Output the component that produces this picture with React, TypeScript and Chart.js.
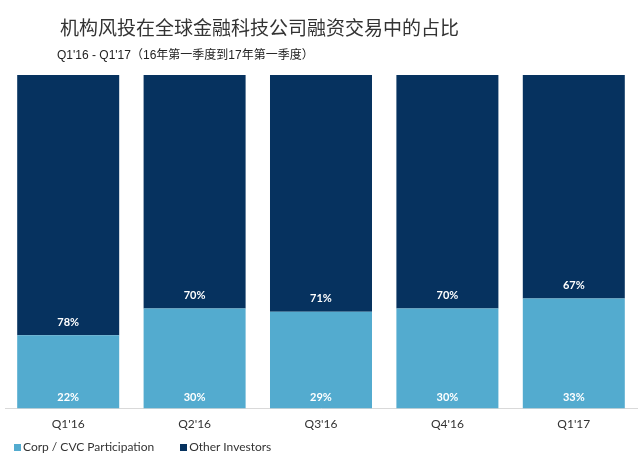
import React, { useEffect, useRef } from "react";
import { Chart, registerables } from "chart.js";

Chart.register(...registerables);

const TITLE = "机构风投在全球金融科技公司融资交易中的占比";
const SUBTITLE = "Q1'16 - Q1'17（16年第一季度到17年第一季度）";
const categories = ["Q1'16", "Q2'16", "Q3'16", "Q4'16", "Q1'17"];
const corpCvc = [22, 30, 29, 30, 33];
const otherInvestors = [78, 70, 71, 70, 67];
const seriesNames = ["Corp / CVC Participation", "Other Investors"];
const seriesColors = ["#53ABCF", "#06325F"];

const LATIN = "Lato, 'Open Sans', 'DejaVu Sans', sans-serif";

const labelPlugin = {
  id: "barLabels",
  afterDatasetsDraw(chart: any) {
    const ctx = chart.ctx;
    ctx.save();
    ctx.fillStyle = "#ffffff";
    ctx.font = "bold 11px " + LATIN;
    ctx.textAlign = "center";
    ctx.textBaseline = "middle";
    chart.data.datasets.forEach((ds: any, di: number) => {
      const meta = chart.getDatasetMeta(di);
      meta.data.forEach((bar: any, i: number) => {
        const v = ds.data[i];
        const y = di === 0 ? bar.base - 11 : bar.base - 13;
        ctx.fillText(v + "%", bar.x, y);
      });
    });
    ctx.restore();
  },
};

export default function App() {
  const ref = useRef<HTMLCanvasElement | null>(null);
  useEffect(() => {
    if (!ref.current) return;
    const chart = new Chart(ref.current, {
      type: "bar",
      data: {
        labels: categories,
        datasets: [
          { label: seriesNames[0], data: corpCvc, backgroundColor: seriesColors[0] },
          { label: seriesNames[1], data: otherInvestors, backgroundColor: seriesColors[1] },
        ],
      },
      options: {
        animation: false,
        responsive: false,
        maintainAspectRatio: false,
        layout: { padding: { left: 5, right: 3, top: 75, bottom: 21 } },
        datasets: { bar: { categoryPercentage: 1, barPercentage: 0.807 } },
        plugins: {
          legend: { display: false },
          title: { display: false },
          tooltip: { enabled: false },
        },
        scales: {
          x: {
            stacked: true,
            grid: { display: false, drawTicks: false },
            border: { display: true, color: "#d9d9d9", width: 1 },
            ticks: { color: "#333333", font: { size: 12, family: LATIN }, padding: 8 },
          },
          y: { stacked: true, display: false, min: 0, max: 100 },
        },
      },
      plugins: [labelPlugin],
    });
    return () => chart.destroy();
  }, []);

  return (
    <div style={{ position: "absolute", left: 0, top: 0, width: 640, height: 460, background: "#fff" }}>
      <canvas ref={ref} width={640} height={460} style={{ position: "absolute", left: 0, top: 0 }} />
      <div
        style={{
          position: "absolute",
          left: 60,
          top: 14,
          fontFamily: "'Noto Sans CJK SC', sans-serif",
          fontSize: 19,
          lineHeight: "26px",
          color: "#333333",
          whiteSpace: "nowrap",
        }}
      >
        {TITLE}
      </div>
      <div
        style={{
          position: "absolute",
          left: 57,
          top: 47,
          fontFamily: "'Liberation Sans', 'Noto Sans CJK SC', sans-serif",
          fontSize: 12,
          lineHeight: "16px",
          color: "#222222",
          whiteSpace: "nowrap",
        }}
      >
        {SUBTITLE}
      </div>
      <div
        style={{
          position: "absolute",
          left: 14,
          top: 439,
          display: "flex",
          fontFamily: LATIN,
          fontSize: 12,
          lineHeight: "16px",
          color: "#333333",
          whiteSpace: "nowrap",
        }}
      >
        {seriesNames.map((n, i) => (
          <div key={n} style={{ display: "flex", alignItems: "center", marginRight: 26 }}>
            <span style={{ display: "inline-block", width: 7, height: 7, background: seriesColors[i], marginRight: 2 }} />
            <span>{n}</span>
          </div>
        ))}
      </div>
    </div>
  );
}
